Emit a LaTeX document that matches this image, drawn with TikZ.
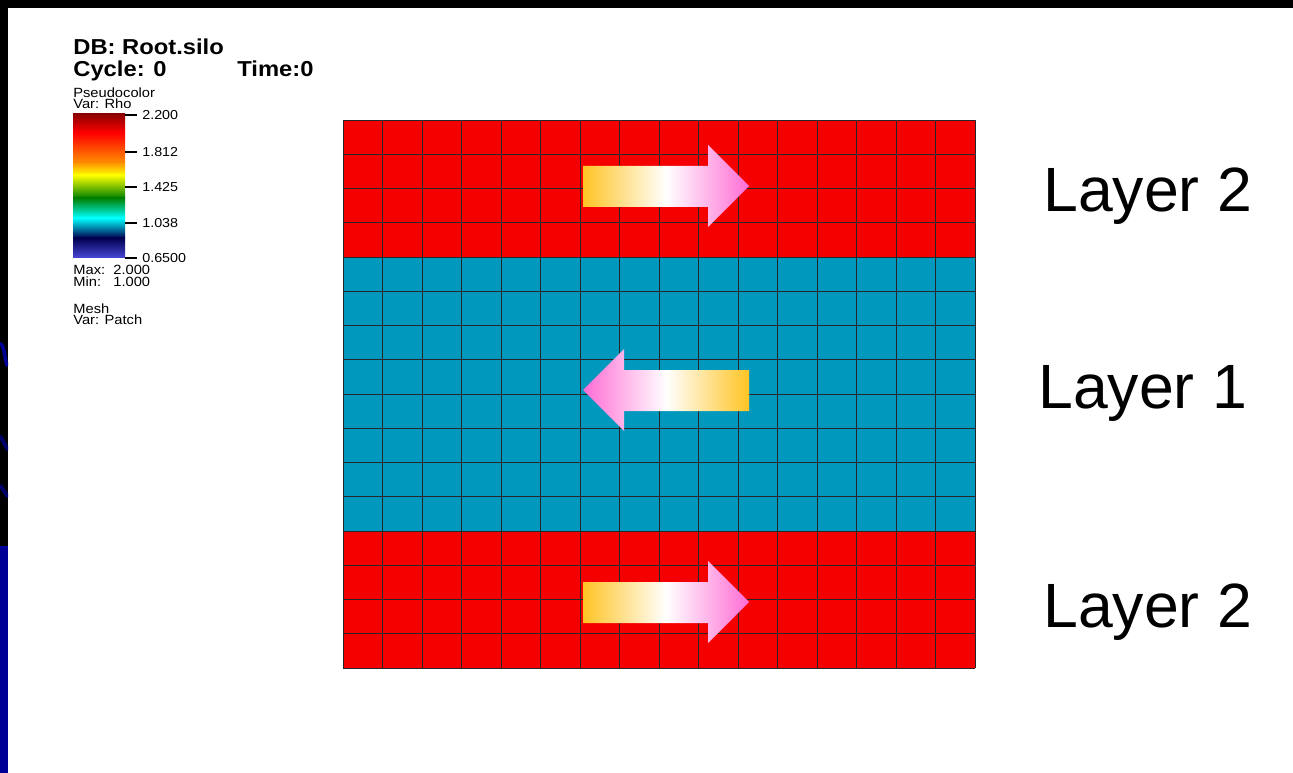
\documentclass[tikz,border=0pt]{standalone}
\usepackage{fontspec}
\setmainfont{Liberation Sans}
\newfontfamily\visitfont[FakeStretch=1.1]{Liberation Sans}
\usetikzlibrary{positioning}

\definecolor{layerred}{RGB}{245,0,0}
\definecolor{layerblue}{RGB}{0,152,188}
\definecolor{arrowgold}{RGB}{255,196,36}
\definecolor{arrowpink}{RGB}{255,108,212}
\definecolor{slideblue}{RGB}{0,0,150}
\definecolor{cbdarkred}{RGB}{140,0,0}
\definecolor{cborange}{RGB}{255,140,0}
\definecolor{cbgreen}{RGB}{0,128,0}
\definecolor{cbnavy}{RGB}{0,0,80}
\definecolor{cbviolet}{RGB}{72,72,216}

\begin{document}
\begin{tikzpicture}[x=0.02cm, y=-0.02cm,
    meshline/.style={black!85, line width=0.45pt},
    headtxt/.style={font=\visitfont\bfseries\fontsize{12.3}{13}\selectfont, anchor=base west, inner sep=0pt},
    legendtxt/.style={font=\visitfont\fontsize{7.6}{8}\selectfont, anchor=base west, inner sep=0pt},
    ticktxt/.style={font=\visitfont\fontsize{7.4}{8}\selectfont, anchor=west, inner sep=0pt},
    layertxt/.style={font=\fontsize{35.6}{40}\selectfont, anchor=base west, inner sep=0pt},
    flowarrow/.style={draw=none}
]
\useasboundingbox (0,0) rectangle (1293,773);
\fill[white] (0,0) rectangle (1293,773);

% slide frame
\fill[black] (0,0) rectangle (1293,8);
\fill[black] (0,0) rectangle (8,773);
\fill[slideblue] (0,546) rectangle (8,773);
\begin{scope}
  \clip (0,0) rectangle (8,773);
  \draw[slideblue, line width=2pt] (0,343) .. controls (6,348) and (4,362) .. (8,366);
  \draw[slideblue!70!black, line width=2.2pt] (0,436) -- (8,450);
  \draw[slideblue!70!black, line width=2.2pt] (0,485) -- (8,497);
\end{scope}

% legend
\node[headtxt] (db) at (73,55) {DB: Root.silo};
\node[headtxt] (cycle) at (73,77) {Cycle: 0};
\node[headtxt] (time) at (237,77) {Time:0};
\node[legendtxt] (plot) at (73,98) {Pseudocolor};
\node[legendtxt] (var) at (73,109) {Var: Rho};

\shade[top color=cbdarkred, bottom color=red] (73,114) rectangle (125,133);
\shade[top color=red, bottom color=cborange] (73,133) rectangle (125,162);
\shade[top color=cborange, bottom color=yellow] (73,162) rectangle (125,175);
\shade[top color=yellow, bottom color=cbgreen] (73,175) rectangle (125,198);
\shade[top color=cbgreen, bottom color=cyan] (73,198) rectangle (125,218);
\shade[top color=cyan, bottom color=cbnavy] (73,218) rectangle (125,238);
\shade[top color=cbnavy, bottom color=cbviolet] (73,238) rectangle (125,258);
\coordinate (cbar) at (125,114);

\foreach \y/\val in {115/2.200, 152/1.812, 187/1.425, 223/1.038, 258/0.6500} {
  \draw[black, line width=0.6pt] (125,\y) -- (137,\y);
  \node[ticktxt] (tick\y) at (142,\y) {\val};
}

\node[legendtxt] (max) at (73,275) {Max:\ \ 2.000};
\node[legendtxt] (min) at (73,286) {Min:\ \ \ 1.000};
\node[legendtxt] (mesh) at (73,313) {Mesh};
\node[legendtxt] (patch) at (73,324) {Var: Patch};

% layers
\fill[layerred] (343,120) rectangle (975,257);
\fill[layerblue] (343,257) rectangle (975,531);
\fill[layerred] (343,531) rectangle (975,668);
\foreach \i in {0,...,16} {
  \draw[meshline] ({343+\i*39.5},120) -- ({343+\i*39.5},668);
  \draw[meshline] (343,{120+\i*34.25}) -- (975,{120+\i*34.25});
}

% flow arrows
\shade[flowarrow, left color=arrowgold, right color=arrowpink, middle color=white]
  (583,166) -- (708,166) -- (708,145) -- (749,186) -- (708,227) -- (708,207) -- (583,207) -- cycle;
\shade[flowarrow, left color=arrowpink, right color=arrowgold, middle color=white]
  (749,370) -- (624,370) -- (624,349) -- (583,390) -- (624,431) -- (624,411) -- (749,411) -- cycle;
\shade[flowarrow, left color=arrowgold, right color=arrowpink, middle color=white]
  (583,582) -- (708,582) -- (708,561) -- (749,602) -- (708,643) -- (708,623) -- (583,623) -- cycle;

% labels
\node[layertxt] (top) at (1043,212) {Layer 2};
\node[layertxt] (mid) at (1038,408) {Layer 1};
\node[layertxt] (bot) at (1043,627) {Layer 2};
\end{tikzpicture}
\end{document}
